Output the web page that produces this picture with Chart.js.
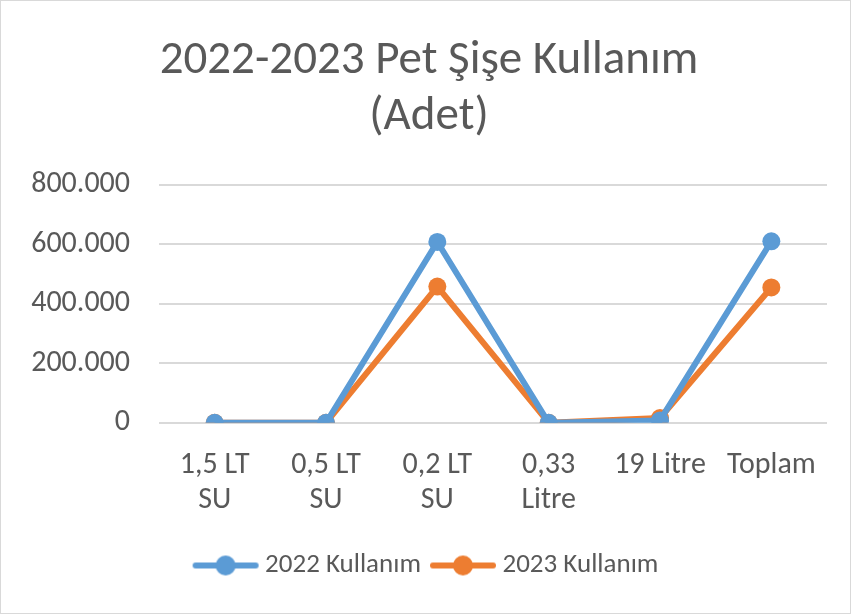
<!DOCTYPE html>
<html lang="tr">
<head>
  <meta charset="UTF-8" />
  <title>2022-2023 Pet Şişe Kullanım</title>
  <style>
    html, body { margin: 0; padding: 0; background: #fff; }
    .chart-box {
      width: 849px;
      height: 612px;
      border: 1px solid #d9d9d9;
    }
  </style>
</head>
<body>
<div class="chart-box"><canvas id="grafik" width="849" height="612"></canvas></div>

<script src="https://cdn.jsdelivr.net/npm/chart.js"></script>
<script>
  // Veriler
  const kategoriler = [['1,5 LT', 'SU'], ['0,5 LT', 'SU'], ['0,2 LT', 'SU'], ['0,33', 'Litre'], '19 Litre', 'Toplam'];
  const kullanim2022 = [0, 0, 608000, 0, 8000, 610000];
  const kullanim2023 = [0, 0, 458000, 0, 16000, 455000];
  const seriAdlari = ['2022 Kullanım', '2023 Kullanım'];
  const renkler = ['#5b9bd5', '#ed7d31'];

  const yazi = "Calibri, Carlito, 'Noto Sans', sans-serif";
  const gri = '#595959';

  // Lejant simgesi: çizgi + daire
  function lejantSimgesi(renk) {
    const c = document.createElement('canvas');
    c.width = 68; c.height = 22;
    const ctx = c.getContext('2d');
    ctx.strokeStyle = renk;
    ctx.lineWidth = 6;
    ctx.lineCap = 'round';
    ctx.beginPath();
    ctx.moveTo(4, 11); ctx.lineTo(64, 11);
    ctx.stroke();
    ctx.fillStyle = renk;
    ctx.beginPath();
    ctx.arc(34, 11, 10, 0, Math.PI * 2);
    ctx.fill();
    return c;
  }

  const seriler = [kullanim2022, kullanim2023].map((veri, i) => ({
    label: seriAdlari[i],
    data: veri,
    borderColor: renkler[i],
    backgroundColor: renkler[i],
    borderWidth: 6,
    pointRadius: 9,
    pointHoverRadius: 9,
    pointBorderWidth: 0,
    tension: 0,
    fill: false
  }));

  new Chart(document.getElementById('grafik'), {
    type: 'line',
    data: { labels: kategoriler, datasets: seriler },
    options: {
      responsive: false,
      animation: false,
      layout: { padding: { left: 30, right: 23, top: 32, bottom: 24 } },
      plugins: {
        title: {
          display: true,
          text: ['2022-2023 Pet Şişe Kullanım', '(Adet)'],
          color: gri,
          font: { family: yazi, size: 47, weight: 'normal' },
          lineHeight: 1.17,
          padding: { top: 0, bottom: 39 }
        },
        legend: {
          position: 'bottom',
          labels: {
            color: gri,
            font: { family: yazi, size: 27 },
            usePointStyle: true,
            pointStyleWidth: 52,
            padding: 16,
            generateLabels: (chart) => chart.data.datasets.map((ds, i) => ({
              text: ds.label,
              fontColor: gri,
              pointStyle: lejantSimgesi(ds.borderColor),
              datasetIndex: i,
              hidden: false,
              lineWidth: 0
            }))
          }
        },
        tooltip: { enabled: false }
      },
      scales: {
        x: {
          offset: true,
          grid: { display: false, drawTicks: false },
          border: { display: false },
          afterFit: (s) => { s.height -= 7; },
          ticks: {
            color: gri,
            font: { family: yazi, size: 30, lineHeight: 1.17 },
            padding: 25,
            maxRotation: 0,
            autoSkip: false
          }
        },
        y: {
          min: 0,
          max: 800000,
          afterFit: (s) => { s.width = 128; },
          ticks: {
            stepSize: 200000,
            color: gri,
            font: { family: yazi, size: 30 },
            padding: 29,
            callback: (v) => v.toLocaleString('de-DE')
          },
          grid: { color: '#d9d9d9', lineWidth: 2, drawTicks: false },
          border: { display: false }
        }
      }
    }
  });
</script>
</body>
</html>
